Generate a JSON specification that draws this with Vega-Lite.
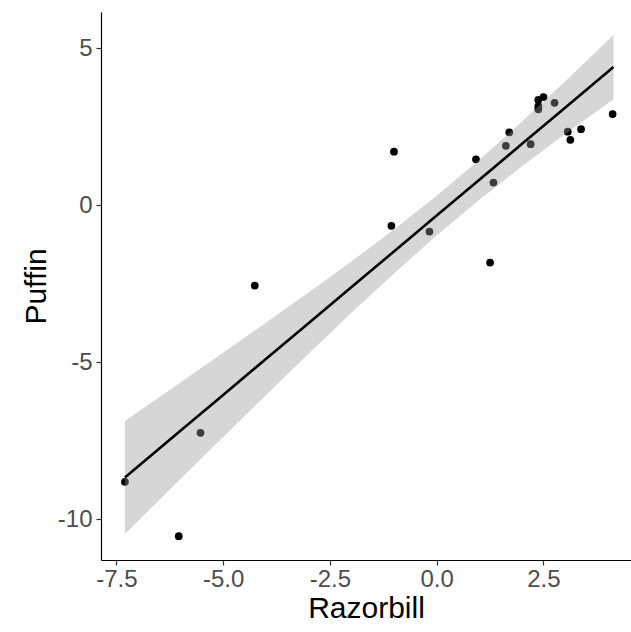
{
  "$schema": "https://vega.github.io/schema/vega-lite/v6.json",
  "width": 530,
  "height": 548,
  "autosize": "none",
  "padding": {"left": 101, "top": 12, "right": 0, "bottom": 72},
  "background": "white",
  "config": {
    "view": {"stroke": null},
    "font": "Liberation Sans",
    "axis": {
      "grid": false,
      "domainColor": "black",
      "domainWidth": 1.2,
      "tickColor": "#333333",
      "tickWidth": 1.2,
      "tickSize": 5,
      "labelColor": "#4D4D4D",
      "labelFontSize": 24,
      "labelFont": "Liberation Sans",
      "titleFont": "Liberation Sans",
      "titleFontSize": 30,
      "titleFontWeight": "normal",
      "titleColor": "black"
    }
  },
  "datasets": {
    "pts": [
      {"Razorbill": -7.30, "Puffin": -8.80},
      {"Razorbill": -5.53, "Puffin": -7.24},
      {"Razorbill": -6.04, "Puffin": -10.53},
      {"Razorbill": -4.26, "Puffin": -2.55},
      {"Razorbill": -1.00, "Puffin": 1.71},
      {"Razorbill": -1.06, "Puffin": -0.65},
      {"Razorbill": -0.17, "Puffin": -0.83},
      {"Razorbill": 0.92, "Puffin": 1.47},
      {"Razorbill": 1.33, "Puffin": 0.73},
      {"Razorbill": 1.25, "Puffin": -1.82},
      {"Razorbill": 1.62, "Puffin": 1.90},
      {"Razorbill": 1.70, "Puffin": 2.33},
      {"Razorbill": 2.20, "Puffin": 1.95},
      {"Razorbill": 2.38, "Puffin": 3.36},
      {"Razorbill": 2.50, "Puffin": 3.45},
      {"Razorbill": 2.38, "Puffin": 3.06},
      {"Razorbill": 2.38, "Puffin": 3.16},
      {"Razorbill": 2.76, "Puffin": 3.27},
      {"Razorbill": 3.07, "Puffin": 2.35},
      {"Razorbill": 3.13, "Puffin": 2.09},
      {"Razorbill": 3.38, "Puffin": 2.43},
      {"Razorbill": 4.12, "Puffin": 2.91}
    ],
    "fit": [
      {"Razorbill": -7.30, "fit": -8.660, "lo": -10.46, "hi": -6.86},
      {"Razorbill": -6.00, "fit": -7.175, "lo": -8.712, "hi": -5.638},
      {"Razorbill": -5.00, "fit": -6.033, "lo": -7.373, "hi": -4.693},
      {"Razorbill": -4.00, "fit": -4.891, "lo": -6.043, "hi": -3.739},
      {"Razorbill": -3.00, "fit": -3.749, "lo": -4.724, "hi": -2.774},
      {"Razorbill": -2.00, "fit": -2.607, "lo": -3.426, "hi": -1.788},
      {"Razorbill": -1.00, "fit": -1.465, "lo": -2.163, "hi": -0.767},
      {"Razorbill": 0.00, "fit": -0.323, "lo": -0.953, "hi": 0.307},
      {"Razorbill": 1.00, "fit": 0.819, "lo": 0.184, "hi": 1.454},
      {"Razorbill": 2.00, "fit": 1.961, "lo": 1.251, "hi": 2.671},
      {"Razorbill": 3.00, "fit": 3.103, "lo": 2.266, "hi": 3.940},
      {"Razorbill": 4.14, "fit": 4.405, "lo": 3.385, "hi": 5.425}
    ]
  },
  "encoding": {
    "x": {
      "field": "Razorbill",
      "type": "quantitative",
      "scale": {"domain": [-7.86, 4.55], "nice": false, "zero": false},
      "axis": {"values": [-7.5, -5, -2.5, 0, 2.5], "labelExpr": "replace(format(datum.value, '.1f'), '\u2212', '-')", "title": "Razorbill", "labelPadding": 2, "titlePadding": 2}
    }
  },
  "layer": [
    {
      "data": {"name": "pts"},
      "mark": {"type": "circle", "size": 60, "color": "black", "opacity": 1},
      "encoding": {
        "y": {
          "field": "Puffin",
          "type": "quantitative",
          "scale": {"domain": [-11.29, 6.16], "nice": false, "zero": false},
          "axis": {"values": [-10, -5, 0, 5], "labelExpr": "replace(format(datum.value, 'd'), '\u2212', '-')", "title": "Puffin", "labelPadding": 4, "titlePadding": 6}
        }
      }
    },
    {
      "data": {"name": "fit"},
      "mark": {"type": "area", "color": "#999999", "opacity": 0.4},
      "encoding": {
        "y": {"field": "lo", "type": "quantitative"},
        "y2": {"field": "hi"}
      }
    },
    {
      "data": {"name": "fit"},
      "mark": {"type": "line", "color": "black", "strokeWidth": 2.6},
      "encoding": {
        "y": {"field": "fit", "type": "quantitative"}
      }
    }
  ]
}
